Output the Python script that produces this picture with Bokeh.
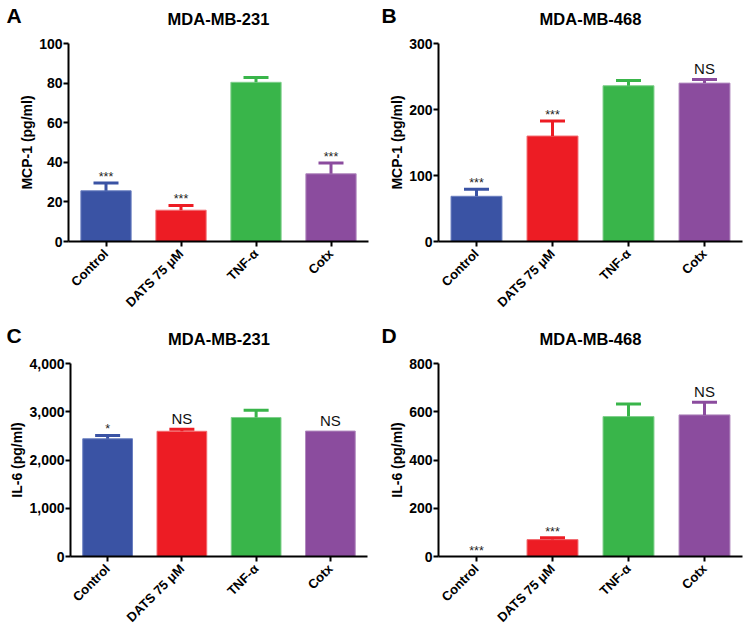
from bokeh.plotting import figure
from bokeh.models import (Range1d, FixedTicker, NumeralTickFormatter, ColumnDataSource,
                          Whisker, TeeHead, Label)
from bokeh.layouts import column, row
from bokeh.embed import file_html
from bokeh.resources import INLINE
from bokeh.core.properties import value
from math import pi

groups = ["Control", "DATS 75 μM", "TNF-α", "Cotx"]
colors = ["#3A53A4", "#ED1C24", "#39B54A", "#8B4C9E"]
edges = ["#6A7FC0", "#F26B70", "#7FCF8B", "#B189BE"]

# Panel A: MCP-1, MDA-MB-231
a_vals = [25.6, 15.8, 80.4, 34.2]
a_errs = [3.9, 2.4, 2.4, 5.4]
a_sig = ["***", "***", "", "***"]
a_ticks = [0, 20, 40, 60, 80, 100]

# Panel B: MCP-1, MDA-MB-468
b_vals = [68.5, 159.8, 236.0, 240.0]
b_errs = [10.5, 22.7, 8.0, 5.6]
b_sig = ["***", "***", "", "NS"]
b_ticks = [0, 100, 200, 300]

# Panel C: IL-6, MDA-MB-231
c_vals = [2440, 2595, 2881, 2600]
c_errs = [68, 40, 149, 0]
c_sig = ["*", "NS", "", "NS"]
c_ticks = [0, 1000, 2000, 3000, 4000]

# Panel D: IL-6, MDA-MB-468
d_vals = [0, 70, 580, 587]
d_errs = [0, 8, 52, 52]
d_sig = ["***", "***", "", "NS"]
d_ticks = [0, 200, 400, 600, 800]

FONT = "Liberation Sans"


def make_panel(vals, errs, sig, ticks, ylabel, title, letter,
               width, height, left, right, top, bottom, fmt=None):
    p = figure(x_range=groups, y_range=Range1d(0, ticks[-1]),
               width=width, height=height, output_backend="svg",
               toolbar_location=None, min_border_left=left,
               min_border_right=right, min_border_top=top,
               min_border_bottom=bottom)
    p.x_range.range_padding = 0
    p.outline_line_color = None
    p.xgrid.grid_line_color = None
    p.ygrid.grid_line_color = None

    src = ColumnDataSource(dict(x=groups, top=vals, color=colors, edge=edges))
    p.vbar(x="x", top="top", width=0.67, source=src,
           fill_color="color", line_color="edge", line_width=1)

    for g, v, e, c in zip(groups, vals, errs, colors):
        if e > 0:
            ws = ColumnDataSource(dict(x=[g], lower=[v], upper=[v + e]))
            w = Whisker(base="x", lower="lower", upper="upper", source=ws,
                        dimension="height", line_color=c, line_width=3,
                        upper_head=TeeHead(size=25, line_color=c, line_width=3),
                        lower_head=None, level="overlay")
            p.add_layout(w)

    ast_x, ast_y, ast_t = [], [], []
    ns_x, ns_y, ns_t = [], [], []
    for g, v, e, s in zip(groups, vals, errs, sig):
        if s == "NS":
            ns_x.append(g); ns_y.append(v + e); ns_t.append(s)
        elif s:
            ast_x.append(g); ast_y.append(v + e); ast_t.append(s)
    if ast_x:
        p.text(x=ast_x, y=ast_y, text=ast_t, text_align="center",
               text_baseline="alphabetic", y_offset=-6,
               text_font=value(FONT), text_font_size="12.5px", text_color="#222222")
    if ns_x:
        p.text(x=ns_x, y=ns_y, text=ns_t, text_align="center",
               text_baseline="alphabetic", y_offset=-11,
               text_font=value(FONT), text_font_size="15px", text_color="#111111")

    fw = width - left - right
    # titles live in the "above" side panel (stacked: title first, letter next)
    p.add_layout(Label(x=fw / 2, y=25, x_units="screen", y_units="screen",
                       text=title, text_align="center", text_baseline="middle",
                       text_font=FONT, text_font_style="bold",
                       text_font_size="16.5px", text_color="black"), "above")
    p.add_layout(Label(x=-left + 6, y=10, x_units="screen", y_units="screen",
                       text=letter, text_align="left", text_baseline="middle",
                       text_font=FONT, text_font_style="bold",
                       text_font_size="21px", text_color="black"), "above")

    for ax in (p.xaxis[0], p.yaxis[0]):
        ax.axis_line_width = 2
        ax.axis_line_color = "black"
        ax.major_tick_line_width = 2
        ax.major_tick_line_color = "black"
        ax.major_tick_out = 5
        ax.major_tick_in = 0
        ax.minor_tick_line_color = None
        ax.major_label_text_font = FONT
        ax.major_label_text_font_style = "bold"
        ax.major_label_text_color = "black"

    p.yaxis.ticker = FixedTicker(ticks=ticks)
    p.yaxis.major_label_text_font_size = "14px"
    p.yaxis.major_label_standoff = 1
    p.yaxis.axis_label = ylabel
    p.yaxis.axis_label_text_font = FONT
    p.yaxis.axis_label_text_font_style = "bold"
    p.yaxis.axis_label_text_font_size = "14px"
    p.yaxis.axis_label_text_color = "black"
    p.yaxis.axis_label_standoff = 1
    if fmt:
        p.yaxis.formatter = NumeralTickFormatter(format=fmt)

    p.xaxis.major_label_orientation = pi / 4
    p.xaxis.major_label_standoff = 5
    p.xaxis.major_label_text_font_size = "13px"
    return p


pa = make_panel(a_vals, a_errs, a_sig, a_ticks, "MCP-1 (pg/ml)", "MDA-MB-231", "A",
                375, 320, 68, 7, 43, 79)
pb = make_panel(b_vals, b_errs, b_sig, b_ticks, "MCP-1 (pg/ml)", "MDA-MB-468", "B",
                375, 320, 63, 8, 43, 79)
pc = make_panel(c_vals, c_errs, c_sig, c_ticks, "IL-6 (pg/ml)", "MDA-MB-231", "C",
                375, 313, 70, 8, 43, 73, fmt="0,0")
pd = make_panel(d_vals, d_errs, d_sig, d_ticks, "IL-6 (pg/ml)", "MDA-MB-468", "D",
                375, 313, 63, 8, 43, 73)

layout = column(row(pa, pb), row(pc, pd))
open("out.html", "w").write(file_html(layout, INLINE))
